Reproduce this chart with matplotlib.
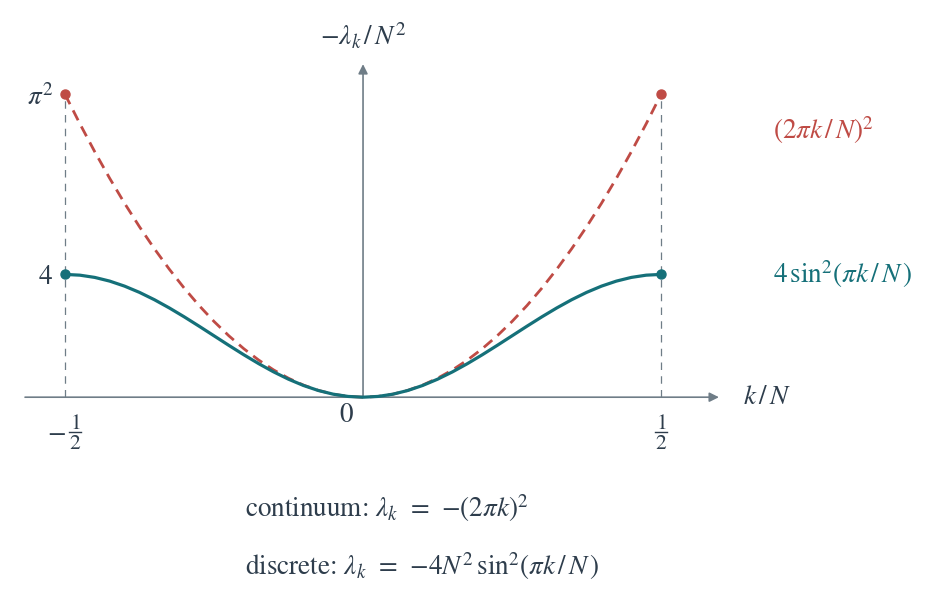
import matplotlib.pyplot as plt

plt.rcParams['mathtext.fontset'] = 'stix'
plt.rcParams['font.family'] = 'STIXGeneral'

k_half = [0, 0.025, 0.05, 0.075, 0.1, 0.125, 0.15, 0.175, 0.2, 0.225, 0.25,
          0.275, 0.3, 0.325, 0.35, 0.375, 0.4, 0.425, 0.45, 0.475, 0.5]
discrete_half = [0, 0.0246, 0.0979, 0.2180, 0.3820, 0.5858, 0.8244, 1.0920,
                 1.3820, 1.6871, 2.0, 2.3129, 2.6180, 2.9080, 3.1756, 3.4142,
                 3.6180, 3.7820, 3.9021, 3.9754, 4.0]
continuum_half = [0, 0.0247, 0.0987, 0.2221, 0.3948, 0.6169, 0.8883, 1.2090,
                  1.5791, 1.9986, 2.4674, 2.9855, 3.5531, 4.1699, 4.8361,
                  5.5517, 6.3165, 7.1308, 7.9944, 8.9074, 9.8696]

k = [-v for v in k_half[::-1]] + k_half[1:]
discrete = discrete_half[::-1] + discrete_half[1:]
continuum = continuum_half[::-1] + continuum_half[1:]

red = '#bf4b45'
teal = '#157079'
grey = '#6f7d87'
ink = '#2e3d4c'

fig = plt.figure(figsize=(9.52, 6.05), dpi=100)
ax = fig.add_axes([0, 0, 1, 1])
ax.set_xlim(-0.609, 0.988)
ax.set_ylim(-6.77, 12.94)
ax.axis('off')

# axes with arrows
ax.annotate('', xy=(0.597, 0), xytext=(-0.567, 0),
            arrowprops=dict(arrowstyle='-|>', color=grey, lw=1.2,
                            mutation_scale=14, shrinkA=0, shrinkB=0))
ax.annotate('', xy=(0, 10.85), xytext=(0, 0),
            arrowprops=dict(arrowstyle='-|>', color=grey, lw=1.2,
                            mutation_scale=14, shrinkA=0, shrinkB=0))

# guide lines at +-1/2
for x in (-0.5, 0.5):
    ax.plot([x, x], [0, continuum[-1]], color=grey, lw=0.9,
            dashes=(6, 5), zorder=1)

ax.plot(k, continuum, color=red, lw=2.0, dashes=(4, 2.5), zorder=2)
ax.plot(k, discrete, color=teal, lw=2.3, zorder=3)
ax.plot([k[0], k[-1]], [continuum[0], continuum[-1]], 'o', color=red, ms=6.5, zorder=4)
ax.plot([k[0], k[-1]], [discrete[0], discrete[-1]], 'o', color=teal, ms=6.5, zorder=4)

fs = 19.5
ax.text(-0.52, continuum[0] - 0.1, r'$\pi^2$', color=ink, fontsize=fs, ha='right', va='center')
ax.text(-0.52, discrete[0] - 0.1, r'$4$', color=ink, fontsize=fs, ha='right', va='center')
ax.text(0, 11.75, r'$-\lambda_k\,/\,N^2$', color=ink, fontsize=fs, ha='center', va='center')
ax.text(0.638, 0, r'$k\,/\,N$', color=ink, fontsize=fs, ha='left', va='center')
ax.text(-0.028, -0.6, r'$0$', color=ink, fontsize=fs, ha='center', va='center')

# tick fractions -1/2 and 1/2, stacked by hand
for xc in (k[0] + 0.017, k[-1]):
    ax.text(xc, -0.87, r'$1$', color=ink, fontsize=15.5, ha='center', va='center')
    ax.text(xc, -1.54, r'$2$', color=ink, fontsize=15.5, ha='center', va='center')
    ax.plot([xc - 0.0101, xc + 0.0101], [-1.13, -1.13], color=ink, lw=1.0)
ax.text(k[0] - 0.0143, -1.16, r'$-$', color=ink, fontsize=fs, ha='center', va='center')

ax.text(0.687, 8.7, r'$(2\pi k\,/\,N)^2$', color=red, fontsize=fs, ha='left', va='center')
ax.text(0.687, 4.0, r'$4\,\mathrm{sin}^2(\pi k\,/\,N\,)$', color=teal, fontsize=fs, ha='left', va='center')

ax.text(-0.198, -3.6, r'continuum: $\lambda_k\;\,=\;\,{-}(2\pi k)^2$', color=ink,
        fontsize=fs, ha='left', va='center')
ax.text(-0.198, -5.5, r'discrete: $\lambda_k\;\,=\;\,{-}4N^2\,\mathrm{sin}^2(\pi k\,/\,N\,)$', color=ink,
        fontsize=fs, ha='left', va='center')

fig.savefig('out.png', dpi=100)
